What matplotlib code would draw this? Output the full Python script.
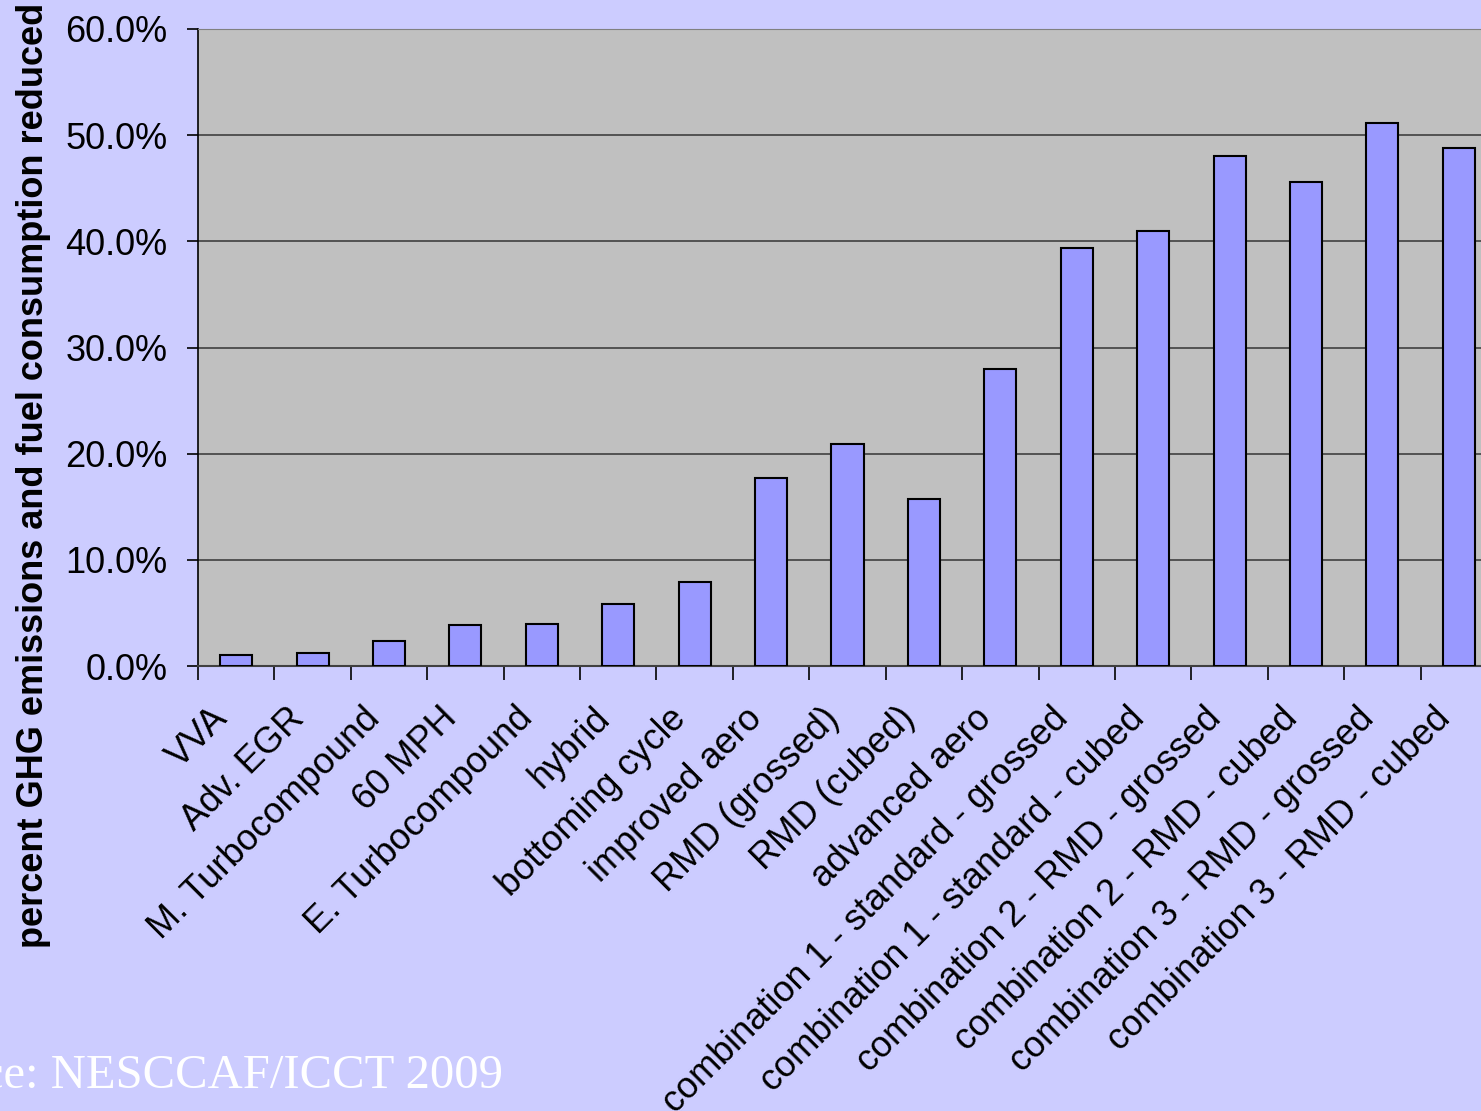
import matplotlib
matplotlib.use("Agg")
import matplotlib.pyplot as plt
import numpy as np
from matplotlib.ticker import FuncFormatter
from matplotlib.transforms import ScaledTranslation

categories = ["VVA", "Adv. EGR", "M. Turbocompound", "60 MPH", "E. Turbocompound",
              "hybrid", "bottoming cycle", "improved aero", "RMD (grossed)", "RMD (cubed)",
              "advanced aero", "combination 1 - standard - grossed",
              "combination 1 - standard - cubed", "combination 2 - RMD - grossed",
              "combination 2 - RMD - cubed", "combination 3 - RMD - grossed",
              "combination 3 - RMD - cubed"]
values = [1.0, 1.2, 2.4, 3.9, 4.0, 5.8, 7.9, 17.7, 20.9, 15.7, 28.0,
          39.4, 41.0, 48.0, 45.6, 51.1, 48.8]
yticks = [0, 10, 20, 30, 40, 50, 60]
ylabel = "percent GHG emissions and fuel consumption reduced"
source = "Source: NESCCAF/ICCT 2009"

plt.rcParams['font.family'] = ['Liberation Sans', 'DejaVu Sans']
W, H = 1481, 1111
fig = plt.figure(figsize=(W/100, H/100), dpi=100, facecolor='#CCCCFF')
left, right, top, bottom = 198, 1497, 29, 666
ax = fig.add_axes([left/W, 1-bottom/H, (right-left)/W, (bottom-top)/H])
ax.set_facecolor('#C0C0C0')

x = np.arange(len(categories))
ax.bar(x, values, width=0.42, color='#9999FF', edgecolor='black', linewidth=1.5, zorder=3)
ax.set_xlim(-0.5, len(categories)-0.5)
ax.set_ylim(0, 60)
ax.set_yticks(yticks)
ax.yaxis.set_major_formatter(FuncFormatter(lambda v, p: f"{v:.1f}%"))
ax.grid(axis='y', color='#404040', linewidth=1.2, zorder=1)
ax.set_axisbelow(True)

ax.set_xticks(x)
ax.set_xticklabels(categories, rotation=45, ha='right', va='center',
                   rotation_mode='anchor', fontsize=26)
ax.tick_params(axis='x', length=0, pad=34)
off = ScaledTranslation(-14/100, 0, fig.dpi_scale_trans)
for lbl in ax.get_xticklabels():
    lbl.set_transform(lbl.get_transform() + off)
ax.set_xticks(np.arange(len(categories)) - 0.5, minor=True)
ax.tick_params(axis='x', which='minor', length=10, width=1.2, color='black', direction='out')
ax.tick_params(axis='y', labelsize=26, length=8, width=1.2, pad=14)

ax.spines['right'].set_visible(False)
ax.spines['top'].set_color('#808080')
ax.spines['left'].set_color('black')
ax.spines['left'].set_linewidth(1.2)
ax.spines['bottom'].set_color('#404040')
ax.spines['bottom'].set_linewidth(1.5)

fig.text(16/W, 1-475/H, ylabel, rotation=90, fontsize=26, fontweight='bold',
         ha='left', va='center')
fig.text(503/W, 1-1088/H, source, fontsize=35, color='white',
         family=['Liberation Serif'], ha='right', va='baseline')

fig.savefig('out.png', dpi=100, facecolor=fig.get_facecolor())
